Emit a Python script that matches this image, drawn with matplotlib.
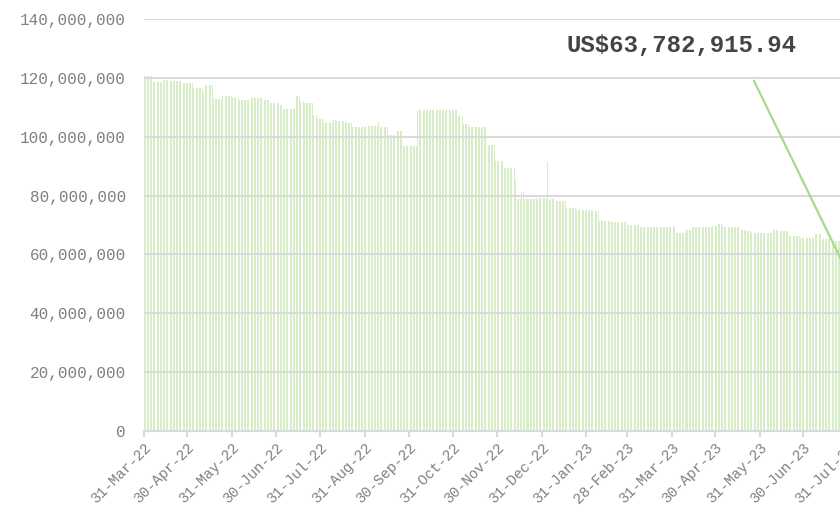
import pandas as pd
import matplotlib
matplotlib.use("Agg")
import matplotlib.pyplot as plt
import matplotlib.dates as mdates
from matplotlib.ticker import FuncFormatter

# Niveaux : date de début du palier -> valeur (millions US$)
seg_dates = [
    "2022-03-31", "2022-04-06", "2022-04-13", "2022-04-18", "2022-04-27",
    "2022-05-04", "2022-05-11", "2022-05-12", "2022-05-18", "2022-05-24",
    "2022-05-31", "2022-06-05", "2022-06-12", "2022-06-21", "2022-06-26",
    "2022-07-03", "2022-07-05", "2022-07-14", "2022-07-17", "2022-07-20",
    "2022-07-26", "2022-07-29", "2022-08-02", "2022-08-09", "2022-08-11",
    "2022-08-18", "2022-08-22", "2022-08-31", "2022-09-09", "2022-09-10",
    "2022-09-16", "2022-09-22", "2022-09-26", "2022-10-06", "2022-10-15",
    "2022-11-03", "2022-11-07", "2022-11-11", "2022-11-23", "2022-11-29",
    "2022-12-05", "2022-12-13", "2022-12-14", "2022-12-17", "2022-12-19",
    "2022-12-28", "2023-01-04", "2023-01-05", "2023-01-10", "2023-01-17",
    "2023-01-19", "2023-01-24", "2023-02-06", "2023-02-09", "2023-02-17",
    "2023-02-28", "2023-03-09", "2023-03-31", "2023-04-03", "2023-04-10",
    "2023-04-14", "2023-04-28", "2023-05-02", "2023-05-05", "2023-05-17",
    "2023-05-22", "2023-05-25", "2023-06-09", "2023-06-14", "2023-06-20",
    "2023-06-28", "2023-07-08", "2023-07-13", "2023-07-20", "2023-08-03",
]
seg_values = [
    120.5, 118.5, 119.3, 118.8, 118.3,
    116.5, 115.0, 117.7, 112.8, 113.7,
    113.0, 112.5, 113.3, 112.5, 111.5,
    110.9, 109.4, 113.9, 112.2, 111.5,
    107.5, 106.0, 104.6, 105.8, 105.2,
    104.6, 103.2, 103.7, 105.0, 103.4,
    100.6, 102.1, 96.9, 109.0, 109.2,
    106.9, 104.4, 103.2, 97.3, 91.8,
    89.3, 84.8, 79.0, 81.3, 78.8,
    79.1, 91.3, 78.8, 78.0, 75.7,
    75.9, 75.2, 74.8, 71.5, 71.1,
    70.1, 69.3, 69.7, 67.2, 68.4,
    69.3, 69.7, 70.3, 69.3, 68.4,
    67.8, 67.4, 68.4, 67.8, 66.3,
    65.5, 67.0, 65.2, 64.5, 63.782915,
]
start_date = "2022-03-31"
end_date = "2023-09-22"
last_label = "US$63,782,915.94"

# paliers -> valeurs journalières
days = pd.date_range(start_date, end_date, freq="D")
steps = pd.Series([v * 1e6 for v in seg_values], index=pd.to_datetime(seg_dates))
daily = steps.reindex(days, method="ffill")

tick_dates = pd.date_range("2022-03-31", "2023-07-31", freq="ME")

plt.rcParams['font.family'] = ['Liberation Mono', 'DejaVu Sans Mono']

fig = plt.figure(figsize=(8.4, 5.16), dpi=100)
ax = fig.add_axes([144 / 840, 85 / 516, 782 / 840, 412 / 516])

ax.bar(daily.index, daily.values, width=0.62, align="edge",
       color="#d6edc8", zorder=1)

ax.set_ylim(0, 140e6)
ax.set_yticks(range(0, 140_000_001, 20_000_000))
ax.yaxis.set_major_formatter(FuncFormatter(lambda v, p: f"{v:,.0f}"))
ax.set_xlim(pd.Timestamp(start_date), pd.Timestamp(end_date) + pd.Timedelta(days=1))
ax.set_xticks(tick_dates)
ax.xaxis.set_major_formatter(mdates.DateFormatter("%d-%b-%y"))

ax.grid(axis="y", color="#dadada", lw=1.5, zorder=2)
ax.set_axisbelow(False)
for s in ["top", "right", "left"]:
    ax.spines[s].set_visible(False)
ax.spines["bottom"].set_color("#d9d9d9")
ax.spines["bottom"].set_linewidth(1.5)

ax.tick_params(axis="y", length=0, pad=13, labelsize=11.5, labelcolor="#808080")
ax.tick_params(axis="x", length=4, width=1.5, color="#d9d9d9", pad=3,
               labelsize=10.5, labelcolor="#808080")
for lab in ax.get_xticklabels():
    lab.set_rotation(45)
    lab.set_ha("right")
    lab.set_rotation_mode("anchor")

# ligne de renvoi vers la dernière valeur
ax.annotate("", xy=(pd.Timestamp(end_date), 0),
            xytext=(pd.Timestamp("2023-05-27"), 119.0e6),
            arrowprops=dict(arrowstyle="-", color="#a6db8c", lw=1.6,
                            shrinkA=0, shrinkB=0),
            annotation_clip=False, zorder=4)

fig.text(567 / 840, (516 - 45) / 516, last_label, ha="left", va="center",
         fontsize=17.3, fontweight="bold", color="#444444")

fig.savefig("out.png", dpi=100)
